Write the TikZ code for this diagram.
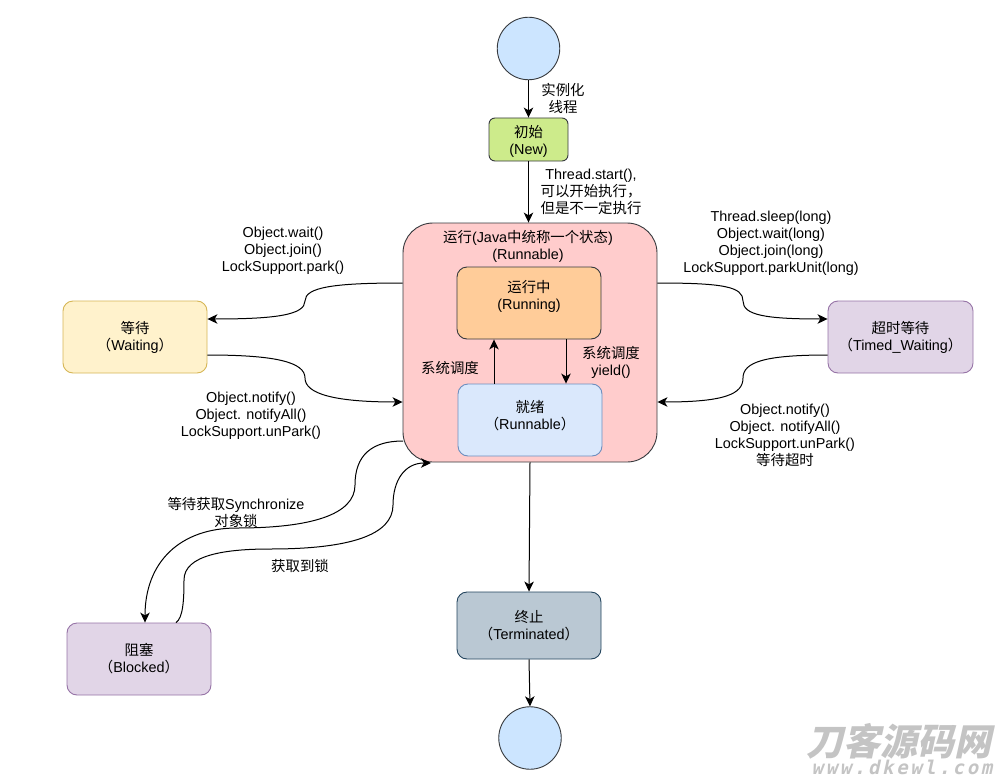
\documentclass[tikz,border=0pt]{standalone}
\usepackage{fontspec}
\setmainfont{Liberation Sans}
\newfontfamily\cjk{Noto Sans CJK SC}
\newfontfamily\cjkmark[FakeSlant=0.22]{Noto Sans CJK SC}
\newfontfamily\urlmark[FakeSlant=0.22,LetterSpace=14]{DejaVu Sans Mono}
\newcommand{\zh}[1]{{\cjk #1}}
\usepackage{tikz}
\usetikzlibrary{arrows.meta, positioning, calc}

\definecolor{startfill}{HTML}{CCE5FF}
\definecolor{newfill}{HTML}{CDEB8B}
\definecolor{runfill}{HTML}{FFCCCC}
\definecolor{runningfill}{HTML}{FFCC99}
\definecolor{readyfill}{HTML}{DAE8FC}
\definecolor{readyline}{HTML}{6C8EBF}
\definecolor{waitfill}{HTML}{FFF2CC}
\definecolor{waitline}{HTML}{D6B656}
\definecolor{timedfill}{HTML}{E1D5E7}
\definecolor{timedline}{HTML}{9673A6}
\definecolor{endfill}{HTML}{BAC8D3}
\definecolor{endline}{HTML}{23445D}
\definecolor{darkline}{HTML}{36393D}

\begin{document}
\begin{tikzpicture}[
    x=1pt, y=-1pt,
    >={Stealth[length=10pt, width=9.5pt, inset=2.8pt]},
    every node/.style={font=\fontsize{14.4}{17}\selectfont, align=center, inner sep=0pt},
    statenode/.style={draw, rectangle, rounded corners=10pt, line width=0.9pt, minimum width=144pt, minimum height=72pt},
    endnode/.style={draw=darkline, circle, fill=startfill, line width=0.9pt, minimum size=62.5pt},
    flow_dw/.style={->, line width=1pt, black}
]
    \useasboundingbox (0,0) rectangle (1006,781);

    % states
    \node[endnode] (Start) at (528.5, 48.5) {};
    \node[statenode, draw=darkline, fill=newfill, rounded corners=6pt, minimum width=79pt, minimum height=43pt] (New) at (528.5, 139.5) {\rule{0pt}{3pt}\\[-5pt]\zh{初始}\\(New)};
    \node[statenode, draw=darkline, fill=runfill, rounded corners=30pt, minimum width=254pt, minimum height=239pt] (Run) at (530, 342.5) {};
    \node (Run_title) at (528, 246) {\zh{运行}(Java\zh{中统称一个状态})\\(Runnable)};
    \node[statenode, draw=darkline, fill=runningfill] (Running) at (529, 303) {\zh{运行中}\\(Running)\\[0pt]};
    \node[statenode, draw=readyline, fill=readyfill] (Ready) at (530, 420) {\zh{就绪}\\\zh{（}Runnable\zh{）}\\[-6pt]};
    \node[statenode, draw=waitline, fill=waitfill] (Waiting) at (135, 337) {\zh{等待}\\\zh{（}Waiting\zh{）}};
    \node[statenode, draw=timedline, fill=timedfill, minimum width=145pt] (Timed) at (900.5, 337) {\zh{超时等待}\\\zh{（}Timed\_Waiting\zh{）}};
    \node[statenode, draw=timedline, fill=timedfill] (Blocked) at (139, 659) {\zh{阻塞}\\\zh{（}Blocked\zh{）}};
    \node[statenode, draw=endline, fill=endfill, minimum height=67pt] (Term) at (529, 625.5) {\zh{终止}\\\zh{（}Terminated\zh{）}};
    \node[endnode] (End) at (530, 738) {};

    % straight arrows
    \draw[flow_dw] (Start) -- (New);
    \draw[flow_dw] (New.south) -- (New.south |- Run.north);
    \draw[flow_dw] ($(Ready.north)+(-36,0)$) -- ($(Running.south)+(-35,0)$);
    \draw[flow_dw] ($(Running.south)+(37,0)$) -- ($(Ready.north)+(36,0)$);
    \draw[flow_dw] (Run.south) -- (Term.north);
    \draw[flow_dw] (Term.south) -- (End.north);

    % curved arrows left
    \draw[flow_dw] ($(Run.west)+(0,-59.5)$) .. controls (335,283) and (305,287) .. (305,301)
      .. controls (305,315) and (275,319) .. ($(Waiting.east)+(0,-18)$);
    \draw[flow_dw] ($(Waiting.east)+(0,18)$) .. controls (275,355) and (305,362) .. (305,378)
      .. controls (305,394) and (335,402) .. ($(Run.west)+(0,59.5)$);

    % curved arrows right
    \draw[flow_dw] ($(Run.east)+(0,-59.5)$) .. controls (725,283) and (743,287) .. (743,301)
      .. controls (743,315) and (765,319) .. ($(Timed.west)+(0,-18)$);
    \draw[flow_dw] ($(Timed.west)+(0,18)$) .. controls (765,355) and (743,362) .. (743,378)
      .. controls (743,394) and (725,402) .. ($(Run.east)+(0,59.5)$);

    % blocked
    \coordinate (Run_out) at (403, 441);
    \coordinate (Run_in) at (431, 463);
    \draw[flow_dw] (Run_out) .. controls (372,441) and (355,455) .. (355,485)
      .. controls (355,515) and (310,528) .. (237,528)
      .. controls (180,528) and (145,562) .. ($(Blocked.north)+(6,0)$);
    \draw[flow_dw] ($(Blocked.north)+(37,0)$) .. controls (183,618) and (184,600) .. (184,580)
      .. controls (184,555) and (225,549) .. (270,549)
      .. controls (350,549) and (393,535) .. (393,505)
      .. controls (393,480) and (405,463) .. (Run_in);

    % labels
    \node (lab_init) at (563, 98) {\zh{实例化}\\\zh{线程}};
    \node (lab_start) at (591, 192) {Thread.start(),\\\zh{可以开始执行，}\\\zh{但是不一定执行}};
    \node (lab_sched1) at (450, 368) {\zh{系统调度}};
    \node (lab_sched2) at (611, 362.5) {\zh{系统调度}\\yield()};
    \node (lab_wait) at (283, 250.5) {Object.wait()\\Object.join()\\LockSupport.park()};
    \node (lab_notify) at (251, 415.5) {Object.notify()\\Object. notifyAll()\\LockSupport.unPark()};
    \node (lab_sleep) at (771, 243) {Thread.sleep(long)\\Object.wait(long)\\Object.join(long)\\LockSupport.parkUnit(long)};
    \node (lab_timeout) at (785, 435) {Object.notify()\\Object. notifyAll()\\LockSupport.unPark()\\\zh{等待超时}};
    \node (lab_sync) at (236, 512.5) {\zh{等待获取}Synchronize\\\zh{对象锁}};
    \node (lab_lock) at (300, 566) {\zh{获取到锁}};

    % watermark
    \node[text=black!23, font=\fontsize{37}{37}\selectfont\cjkmark\bfseries] (mark_cn) at (899, 741) {刀客源码网};
    \node[text=black!23, font=\fontsize{19}{19}\selectfont\urlmark\bfseries] (mark_url) at (902, 767) {www.dkewl.com};
\end{tikzpicture}
\end{document}
